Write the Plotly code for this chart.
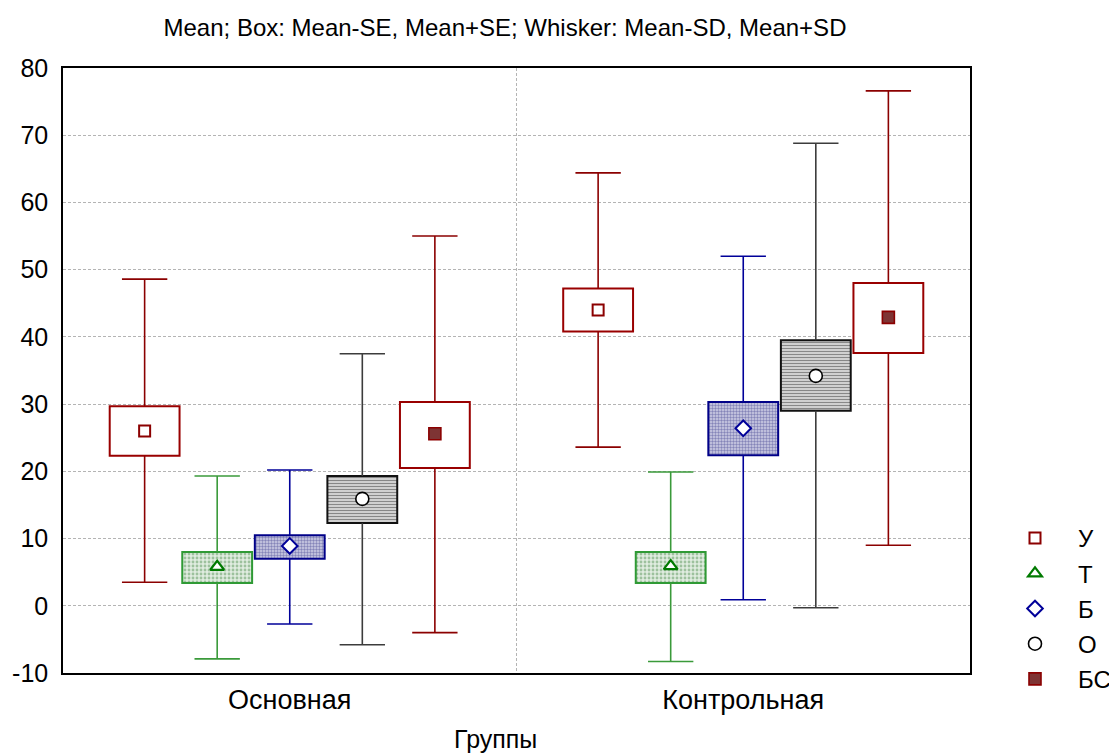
import plotly.graph_objects as go

groups = ["Основная", "Контрольная"]
series = ["У", "Т", "Б", "О", "БС"]

# values per series: [Основная, Контрольная]
mean = [[26.0, 44.0], [5.8, 5.9], [8.9, 26.4], [15.9, 34.2], [25.6, 42.9]]
box_low = [[22.3, 40.8], [3.4, 3.4], [7.0, 22.4], [12.3, 29.0], [20.5, 37.6]]
box_high = [[29.7, 47.2], [8.0, 8.0], [10.5, 30.3], [19.3, 39.5], [30.3, 48.0]]
whisk_low = [[3.5, 23.6], [-7.9, -8.3], [-2.7, 0.9], [-5.8, -0.3], [-4.0, 9.0]]
whisk_high = [[48.6, 64.4], [19.3, 19.9], [20.2, 52.0], [37.5, 68.8], [55.0, 76.6]]

y_ticks = [-10, 0, 10, 20, 30, 40, 50, 60, 70, 80]

# styling
W, H = 1109, 745          # page body has an 8px margin
offsets = [-0.32, -0.16, 0.0, 0.16, 0.32]
box_w = 0.154
cap_half = 0.05
line_col = ["#8B0000", "#3A9A3A", "#000099", "#3C3C3C", "#8B0000"]
edge_col = ["#990000", "#2F9A35", "#000088", "#111111", "#990000"]
box_fill = [
    None,
    dict(shape=".", fgcolor="#5A965A", bgcolor="#E0ECE0", size=4, solidity=0.4),
    dict(shape=".", fgcolor="#3A3A8A", bgcolor="#D0D0E6", size=3, solidity=0.5),
    dict(shape="-", fgcolor="#111111", bgcolor="#FFFFFF", size=3, solidity=0.6),
    None,
]
markers = [
    dict(symbol="square-open", size=11, color="#8B0000", line=dict(width=2, color="#8B0000")),
    dict(symbol="triangle-up", size=12, color="white", line=dict(width=2.2, color="#007A00")),
    dict(symbol="diamond", size=12, color="white", line=dict(width=2, color="#000099")),
    dict(symbol="circle", size=13, color="white", line=dict(width=1.6, color="#000000")),
    dict(symbol="square", size=12, color="#7E3434", line=dict(width=1.6, color="#8B0000")),
]

FONT = "Liberation Sans, Arial, sans-serif"
fig = go.Figure()

# boxes (Mean±SE)
for i, s in enumerate(series):
    xs = [g + offsets[i] for g in range(len(groups))]
    hi = box_high[i]
    lo = box_low[i]
    mk = dict(color="white", line=dict(color=edge_col[i], width=2))
    if box_fill[i] is not None:
        mk["color"] = box_fill[i]["bgcolor"]
        mk["pattern"] = box_fill[i]
    fig.add_trace(go.Bar(
        x=xs, y=[h - l for h, l in zip(hi, lo)], base=lo, width=box_w,
        marker=mk, showlegend=False, hoverinfo="skip"))

# whiskers (Mean±SD)
for i, s in enumerate(series):
    wx, wy = [], []
    for g in range(len(groups)):
        x = g + offsets[i]
        wx += [x, x, None, x, x, None,
               x - cap_half, x + cap_half, None, x - cap_half, x + cap_half, None]
        wy += [box_high[i][g], whisk_high[i][g], None, box_low[i][g], whisk_low[i][g], None,
               whisk_high[i][g], whisk_high[i][g], None, whisk_low[i][g], whisk_low[i][g], None]
    fig.add_trace(go.Scatter(x=wx, y=wy, mode="lines",
                             line=dict(color=line_col[i], width=1.6),
                             showlegend=False, hoverinfo="skip"))

# means
for i, s in enumerate(series):
    xs = [g + offsets[i] for g in range(len(groups))]
    fig.add_trace(go.Scatter(x=xs, y=mean[i], mode="markers", name=s,
                             legendgroup=s, marker=markers[i]))

L, T, PW, PH = 55, 60, 907, 605
fig.update_layout(
    width=W, height=H,
    paper_bgcolor="white", plot_bgcolor="white",
    margin=dict(l=L, r=W - L - PW, t=T, b=H - T - PH, autoexpand=False),
    barmode="overlay",
    font=dict(family=FONT, size=25, color="black"),
    title=dict(text="Mean; Box: Mean-SE, Mean+SE; Whisker: Mean-SD, Mean+SD",
               font=dict(family=FONT, size=24, color="black"),
               x=497 / W, xref="container", xanchor="center",
               y=1 - 20 / H, yref="container", yanchor="middle"),
    legend=dict(xref="container", yref="container",
                x=984 / W, y=1 - 508 / H, xanchor="left", yanchor="top",
                font=dict(family=FONT, size=24, color="black"),
                itemwidth=76, tracegroupgap=1, bgcolor="rgba(0,0,0,0)"),
    showlegend=True,
)

fig.update_xaxes(
    range=[-0.5, 1.5], tickvals=list(range(len(groups))), ticktext=groups,
    tickfont=dict(family=FONT, size=27, color="black"),
    showgrid=False, zeroline=False, ticks="", ticklabelstandoff=2,
    automargin=False,
    showline=True, linecolor="black", linewidth=1.5, mirror=True,
    minor=dict(tickvals=[0.5], showgrid=True, gridcolor="#B4B4B4",
               griddash="3px,2px", gridwidth=1, ticks=""),
)
fig.update_yaxes(
    range=[-10, 80], tickvals=y_ticks, ticktext=[str(v) for v in y_ticks],
    tickfont=dict(family=FONT, size=25, color="black"),
    showgrid=True, gridcolor="#B4B4B4", griddash="3px,2px", gridwidth=1,
    zeroline=False, ticks="", ticklabelstandoff=8, automargin=False,
    showline=True, linecolor="black", linewidth=1.5, mirror=True,
)

fig.add_annotation(text="Группы", xref="paper", yref="paper",
                   x=(487 - L) / PW, y=-(731 - (T + PH)) / PH,
                   xanchor="center", yanchor="middle", showarrow=False,
                   font=dict(family=FONT, size=25, color="black"))

fig.write_html("out.html")
